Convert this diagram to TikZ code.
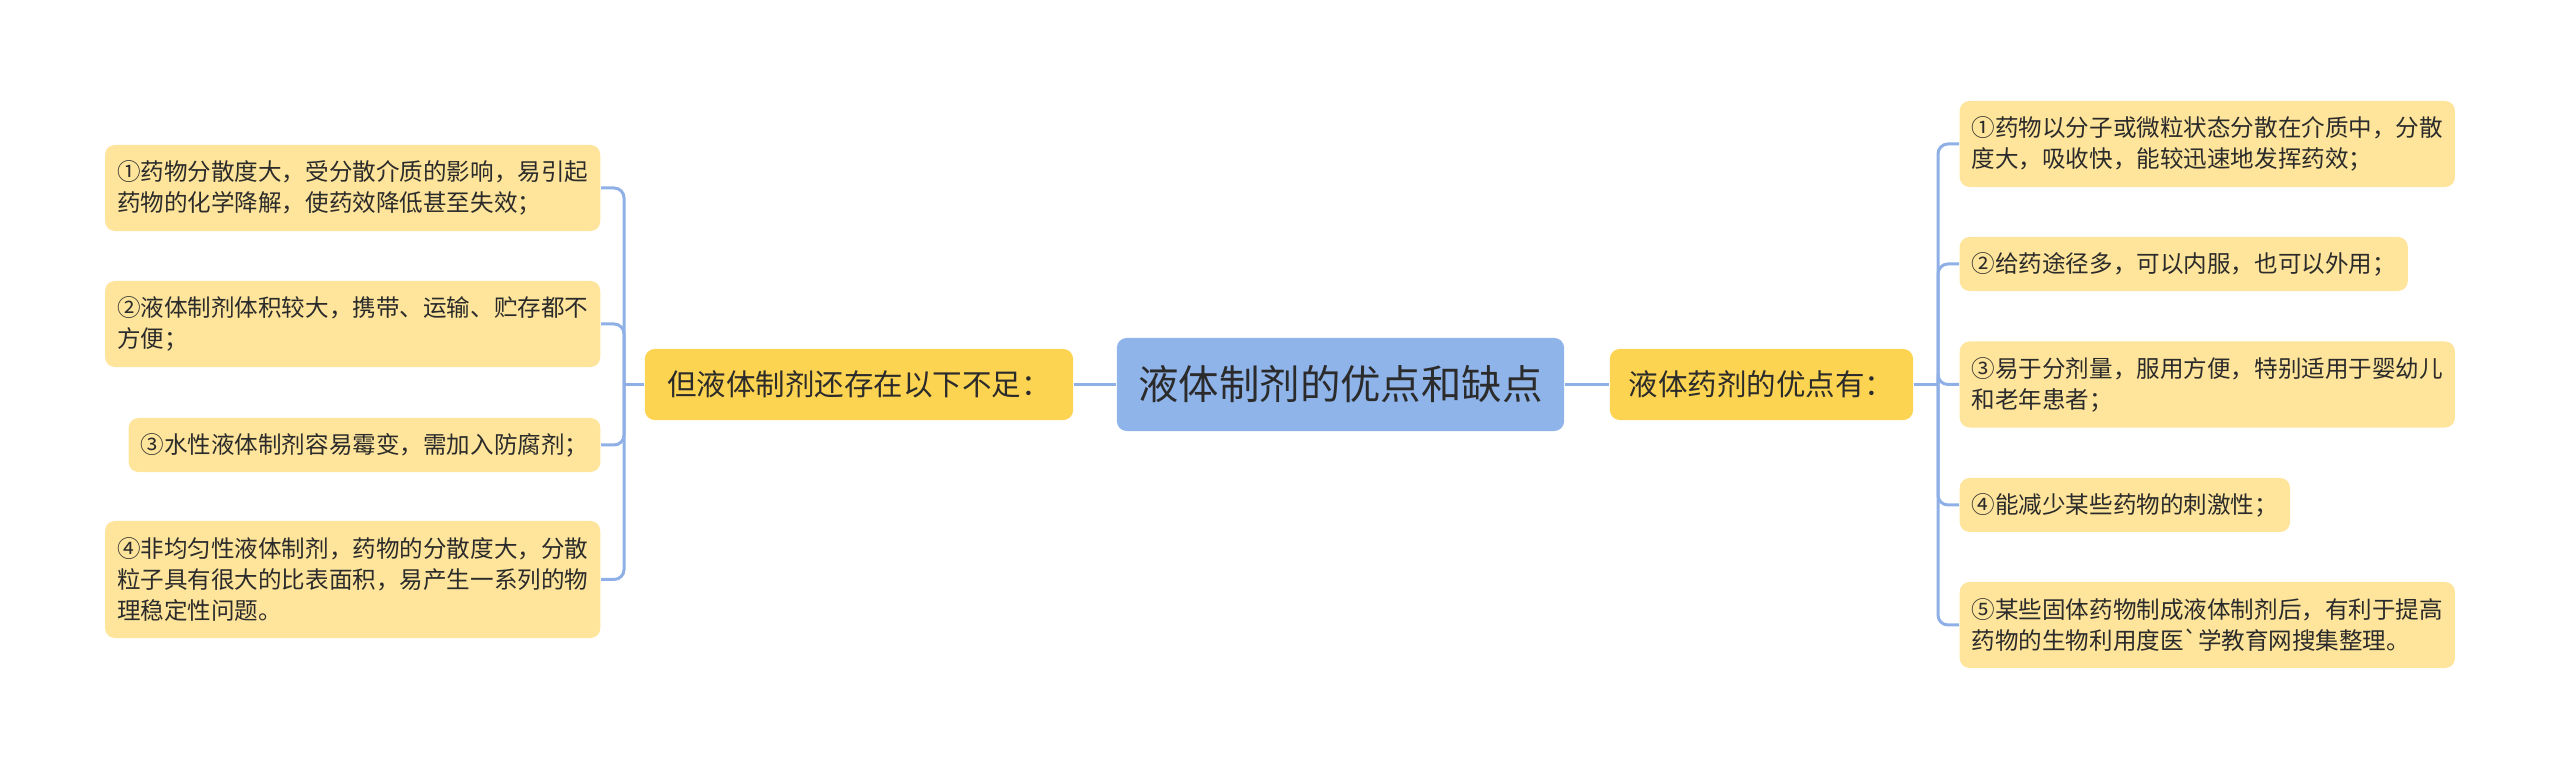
\documentclass[tikz,border=0pt]{standalone}
\usepackage{fontspec}
\setmainfont{Noto Sans CJK SC}
\definecolor{leafc}{HTML}{FEE59B}
\definecolor{topicc}{HTML}{FDD451}
\definecolor{rootc}{HTML}{8FB4EA}
\definecolor{linkc}{HTML}{8FB0E6}
\definecolor{inkc}{HTML}{2B2B2B}
\tikzset{
  leaf/.style={fill=leafc, rounded corners=2.8pt, inner xsep=0.12cm, align=left,
    text=inkc, font=\fontsize{6.7}{8.8}\selectfont},
  topic/.style={fill=topicc, rounded corners=2.8pt, minimum height=0.71cm,
    text=inkc, font=\fontsize{8.4}{10}\selectfont},
  link/.style={draw=linkc, line width=0.85pt, rounded corners=2.8pt},
}
\begin{document}
\begin{tikzpicture}[x=0.01cm,y=-0.01cm]
\useasboundingbox (0,0) rectangle (2560,771);
% centre and the two branches
\node[fill=rootc, rounded corners=2.8pt, minimum width=4.47cm, minimum height=0.93cm,
  text=inkc, font=\fontsize{11.5}{13}\selectfont] (root) at (1340.5,384.5) {液体制剂的优点和缺点};
\node[topic, minimum width=4.28cm] (cons) at (859,384.5) {但液体制剂还存在以下不足：};
\node[topic, minimum width=3.03cm] (pros) at (1761.5,384.5) {液体药剂的优点有：};
\coordinate (lj) at (624,384.5);
\coordinate (rj) at (1938,384.5);
% left leaves
\node[leaf, anchor=east, minimum height=0.86cm] (cons1) at (601,188) {①药物分散度大，受分散介质的影响，易引起\\药物的化学降解，使药效降低甚至失效；};
\node[leaf, anchor=east, minimum height=0.86cm] (cons2) at (601,324) {②液体制剂体积较大，携带、运输、贮存都不\\方便；};
\node[leaf, anchor=east, minimum height=0.54cm] (cons3) at (601,445) {③水性液体制剂容易霉变，需加入防腐剂；};
\node[leaf, anchor=east, minimum height=1.17cm] (cons4) at (601,579.5) {④非均匀性液体制剂，药物的分散度大，分散\\粒子具有很大的比表面积，易产生一系列的物\\理稳定性问题。};
% right leaves
\node[leaf, anchor=west, minimum height=0.86cm] (pros1) at (1959,144) {①药物以分子或微粒状态分散在介质中，分散\\度大，吸收快，能较迅速地发挥药效；};
\node[leaf, anchor=west, minimum height=0.54cm] (pros2) at (1959,264) {②给药途径多，可以内服，也可以外用；};
\node[leaf, anchor=west, minimum height=0.86cm] (pros3) at (1959,384.5) {③易于分剂量，服用方便，特别适用于婴幼儿\\和老年患者；};
\node[leaf, anchor=west, minimum height=0.54cm] (pros4) at (1959,505) {④能减少某些药物的刺激性；};
\node[leaf, anchor=west, minimum height=0.86cm] (pros5) at (1959,625) {⑤某些固体药物制成液体制剂后，有利于提高\\药物的生物利用度医\textasciigrave 学教育网搜集整理。};
% connectors
\draw[link] (root.west) -- (cons.east);
\draw[link] (root.east) -- (pros.west);
\draw[link] (cons.west) -- (lj);
\draw[link] (pros.east) -- (rj);
\foreach \n in {cons1,cons2,cons3,cons4}
  \draw[link] (lj) |- (\n.east);
\foreach \n in {pros1,pros2,pros3,pros4,pros5}
  \draw[link] (rj) |- (\n.west);
\end{tikzpicture}
\end{document}
